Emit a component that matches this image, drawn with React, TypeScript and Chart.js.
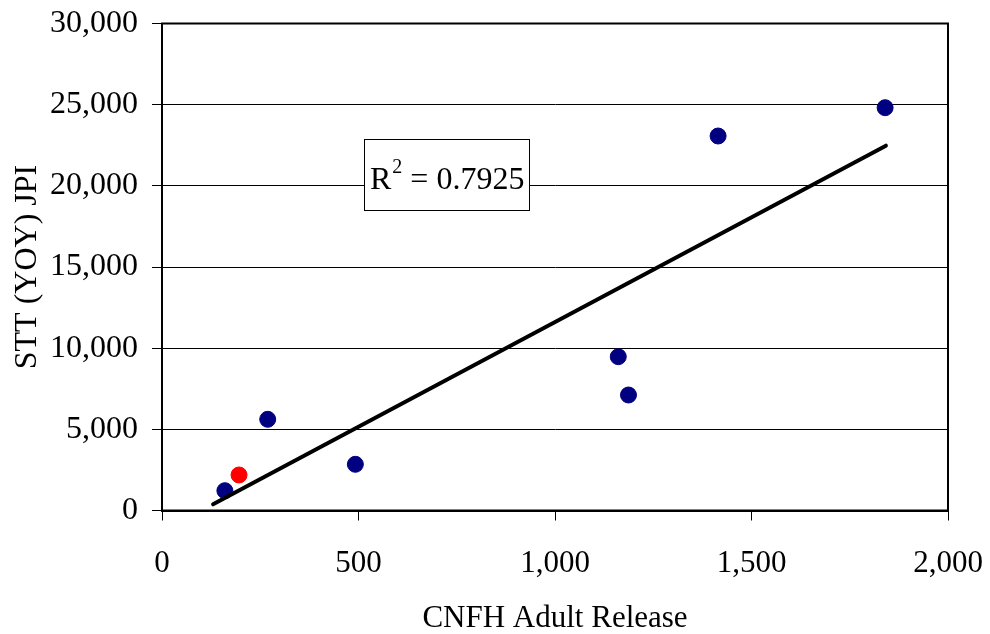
import React, { useEffect, useRef } from "react";
import { Chart, registerables } from "chart.js";

Chart.register(...registerables);

// Data
const blueX = [160, 269, 492, 1161, 1187, 1415, 1840];
const blueY = [1220, 5618, 2846, 9474, 7115, 23069, 24813];
const redX = [196];
const redY = [2187];
const trendRangeX = [130, 1842];
const xTicks = [0, 500, 1000, 1500, 2000];
const yTicks = [0, 5000, 10000, 15000, 20000, 25000, 30000];
const xTitle = "CNFH Adult Release";
const yTitle = "STT (YOY) JPI";
const r2Label = "0.7925";

const FONT = "'Liberation Serif', 'Times New Roman', serif";

function regression(xs: number[], ys: number[]) {
  const n = xs.length;
  const mx = xs.reduce((a, b) => a + b, 0) / n;
  const my = ys.reduce((a, b) => a + b, 0) / n;
  let sxy = 0, sxx = 0;
  for (let i = 0; i < n; i++) {
    sxy += (xs[i] - mx) * (ys[i] - my);
    sxx += (xs[i] - mx) ** 2;
  }
  const slope = sxy / sxx;
  return { slope, intercept: my - slope * mx };
}

const frameAndLabel = {
  id: "frameAndLabel",
  afterDatasetsDraw(chart: any) {
    const { ctx, chartArea } = chart;
    ctx.save();
    ctx.strokeStyle = "#000";
    ctx.lineWidth = 2;
    ctx.strokeRect(chartArea.left, chartArea.top, chartArea.right - chartArea.left, chartArea.bottom - chartArea.top);
    // R² box
    const bx = chartArea.left + 202;
    const by = chartArea.top + 115.5;
    const bw = 165;
    const bh = 71;
    ctx.fillStyle = "#fff";
    ctx.fillRect(bx, by, bw, bh);
    ctx.lineWidth = 1;
    ctx.strokeRect(bx + 0.5, by + 0.5, bw, bh);
    ctx.fillStyle = "#000";
    ctx.textBaseline = "alphabetic";
    ctx.textAlign = "left";
    ctx.font = `32px ${FONT}`;
    const baseY = by + 50;
    ctx.fillText("R", bx + 6, baseY);
    const rw = ctx.measureText("R").width;
    ctx.font = `20px ${FONT}`;
    ctx.fillText("2", bx + 6 + rw + 1, baseY - 16);
    const sw = ctx.measureText("2").width;
    ctx.font = `32px ${FONT}`;
    ctx.fillText(" = " + r2Label, bx + 6 + rw + 1 + sw, baseY);
    ctx.restore();
  },
};

export default function App() {
  const ref = useRef<HTMLCanvasElement | null>(null);
  useEffect(() => {
    document.body.style.margin = "0";
    const allX = [...blueX, ...redX];
    const allY = [...blueY, ...redY];
    const { slope, intercept } = regression(allX, allY);
    const trend = trendRangeX.map((x) => ({ x, y: slope * x + intercept }));
    const chart = new Chart(ref.current as HTMLCanvasElement, {
      type: "scatter",
      data: {
        datasets: [
          {
            type: "line",
            data: trend,
            borderColor: "#000",
            borderWidth: 4,
            pointRadius: 0,
            order: 0,
            borderCapStyle: "round",
          } as any,
          {
            data: blueX.map((x, i) => ({ x, y: blueY[i] })),
            backgroundColor: "#000080",
            borderColor: "#000080",
            pointRadius: 8,
            order: 1,
          },
          {
            data: redX.map((x, i) => ({ x, y: redY[i] })),
            backgroundColor: "#ff0000",
            borderColor: "#ff0000",
            pointRadius: 8,
            order: 1,
          },
        ],
      },
      options: {
        animation: false,
        responsive: false,
        layout: { padding: { top: 23.5, right: 42, left: 0, bottom: 0 } },
        plugins: { legend: { display: false }, tooltip: { enabled: false } },
        scales: {
          x: {
            type: "linear",
            min: 0,
            max: 2000,
            afterFit: (s: any) => {
              s.height = 123.5;
              s.paddingLeft = 0;
              s.paddingRight = 0;
            },
            afterBuildTicks: (s: any) => { s.ticks = xTicks.map((v) => ({ value: v })); },
            ticks: {
              color: "#000",
              font: { family: FONT, size: 31 },
              padding: 25,
              maxRotation: 0,
              callback: (v: any) => Number(v).toLocaleString("en-US"),
            },
            grid: { drawOnChartArea: false, drawTicks: true, tickLength: 10, color: "#000", lineWidth: 1 },
            border: { display: true, color: "#000", width: 2 },
            title: { display: true, text: xTitle, color: "#000", font: { family: FONT, size: 31, lineHeight: 1 }, padding: { top: 0, bottom: 0 } },
          },
          y: {
            type: "linear",
            min: 0,
            max: 30000,
            afterFit: (s: any) => {
              s.width = 162;
              s.paddingTop = 0;
              s.paddingBottom = 0;
            },
            afterBuildTicks: (s: any) => { s.ticks = yTicks.map((v) => ({ value: v })); },
            ticks: {
              color: "#000",
              font: { family: FONT, size: 32 },
              padding: 14,
              callback: (v: any) => Number(v).toLocaleString("en-US"),
            },
            grid: { drawTicks: true, tickLength: 10, color: "#000", lineWidth: 1 },
            border: { display: true, color: "#000", width: 2 },
            title: { display: true, text: yTitle, color: "#000", font: { family: FONT, size: 32 }, padding: { top: 8, bottom: 0 } },
          },
        },
      } as any,
      plugins: [frameAndLabel],
    });
    return () => chart.destroy();
  }, []);
  return (
    <div style={{ width: 990, height: 634 }}>
      <canvas ref={ref} width={990} height={634} />
    </div>
  );
}
